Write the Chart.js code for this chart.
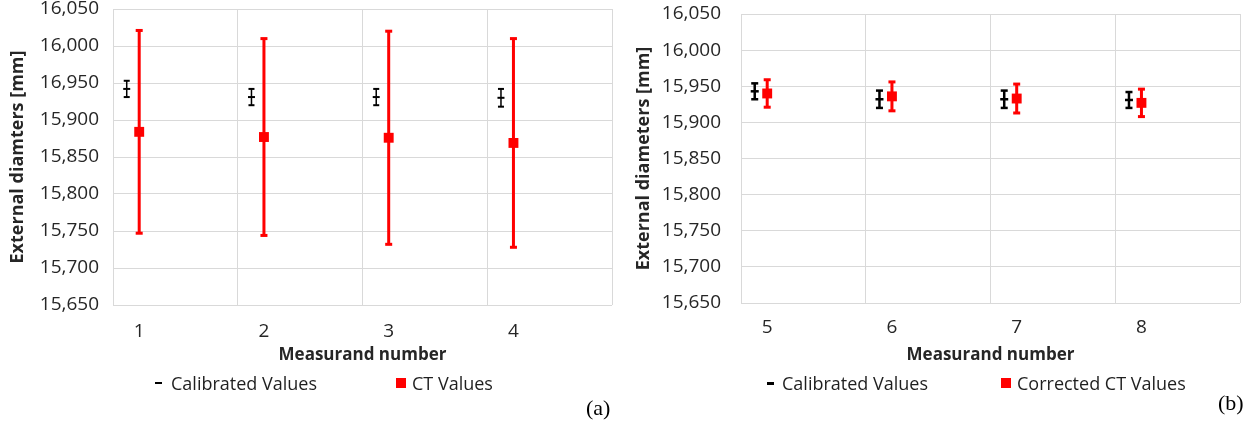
<!DOCTYPE html>
<html><head><meta charset="utf-8">
<script src="https://cdn.jsdelivr.net/npm/chart.js@4.4.1/dist/chart.umd.min.js"></script>
<style>
html,body{margin:0;padding:0;background:#fff;}
body{width:1260px;height:423px;position:relative;overflow:hidden;font-family:"Open Sans",sans-serif;}
.panel{position:absolute;top:0;width:630px;height:423px;}
.leg{position:absolute;font-size:18px;color:#1f1f1f;line-height:24px;white-space:nowrap;}
.mk{position:absolute;}
.tag{position:absolute;font-family:"Liberation Serif",serif;font-size:22px;line-height:26px;color:#000;}
</style></head><body>
<div class="panel" style="left:0"><canvas id="ca" width="630" height="423"></canvas></div>
<div class="panel" style="left:630px"><canvas id="cb" width="630" height="423"></canvas></div>
<div id="overlay"></div>
<script>
// ---------- data: panel (a) ----------
const catsA = [1, 2, 3, 4];
const calA = [15.942, 15.931, 15.931, 15.930];
const calErrA = [0.011, 0.011, 0.011, 0.012];
const ctA = [15.884, 15.877, 15.876, 15.869];
const ctErrA = [0.137, 0.133, 0.144, 0.141];
const namesA = ['Calibrated Values', 'CT Values'];
const yLabelsA = ['15,650', '15,700', '15,750', '15,800', '15,850', '15,900', '16,950', '16,000', '16,050'];
const yTitleA = 'External diamters [mm]';
// ---------- data: panel (b) ----------
const catsB = [5, 6, 7, 8];
const calB = [15.943, 15.932, 15.932, 15.931];
const calErrB = [0.011, 0.012, 0.012, 0.011];
const ctB = [15.940, 15.936, 15.933, 15.927];
const ctErrB = [0.019, 0.020, 0.020, 0.019];
const namesB = ['Calibrated Values', 'Corrected CT Values'];
const yLabelsB = ['15,650', '15,700', '15,750', '15,800', '15,850', '15,900', '15,950', '16,000', '16,050'];
const yTitleB = 'External diameters [mm]';
// ---------- shared ----------
const yTicks = [15.65, 15.70, 15.75, 15.80, 15.85, 15.90, 15.95, 16.00, 16.05];
const xTitle = 'Measurand number';

const GRID = '#d9d9d9';
const TXT = '#262626';

const errorBars = {
  id: 'errorBars',
  beforeDatasetsDraw(chart) {
    const ctx = chart.ctx, y = chart.scales.y;
    chart.data.datasets.forEach((ds, di) => {
      const meta = chart.getDatasetMeta(di);
      const st = ds.eb;
      ctx.save();
      ctx.fillStyle = st.color;
      meta.data.forEach((pt, i) => {
        const v = ds.data[i].y, e = ds.errors[i];
        const top = y.getPixelForValue(v + e), bot = y.getPixelForValue(v - e);
        const x = pt.x;
        ctx.fillRect(x - st.lw / 2, top, st.lw, bot - top);
        ctx.fillRect(x - st.cap / 2, top - st.capH / 2, st.cap, st.capH);
        ctx.fillRect(x - st.cap / 2, bot - st.capH / 2, st.cap, st.capH);
      });
      ctx.restore();
    });
  }
};

function makeChart(id, g) {
  const x0 = g.cats[0] - 0.21;
  const x1 = x0 + g.cats.length;
  return new Chart(document.getElementById(id), {
    type: 'scatter',
    data: {
      datasets: [
        {
          label: g.names[0],
          data: g.cats.map((c, i) => ({ x: c - 0.1, y: g.cal[i] })),
          errors: g.calErr,
          eb: g.blackEb,
          pointStyle: 'line', pointRadius: g.blackR, pointHoverRadius: g.blackR,
          borderColor: '#000', borderWidth: g.blackW, backgroundColor: '#000'
        },
        {
          label: g.names[1],
          data: g.cats.map((c, i) => ({ x: c, y: g.ct[i] })),
          errors: g.ctErr,
          eb: g.redEb,
          pointStyle: 'rect', pointRadius: 7, pointHoverRadius: 7,
          backgroundColor: '#ff0000', borderColor: '#ff0000', borderWidth: 0
        }
      ]
    },
    options: {
      responsive: false, animation: false, devicePixelRatio: 1,
      layout: { padding: { top: g.padTop, right: g.padRight, left: 0, bottom: 0 } },
      plugins: { legend: { display: false }, tooltip: { enabled: false } },
      scales: {
        x: {
          type: 'linear', position: 'bottom', min: x0, max: x1,
          afterBuildTicks: s => { s.ticks = g.cats.concat([0]).map((c, k) => ({ value: x0 + k })); },
          ticks: { display: false },
          grid: { color: GRID, lineWidth: 1, drawTicks: false },
          border: { display: false },
          afterFit: s => { s.height = 0; s.paddingLeft = 0; s.paddingRight = 0; }
        },
        xl: {
          type: 'linear', position: 'bottom', min: x0, max: x1,
          afterBuildTicks: s => { s.ticks = g.cats.map(c => ({ value: c })); },
          ticks: {
            font: { family: 'Open Sans', size: 19 }, color: TXT, padding: g.xTickPad,
            callback: (v, i) => String(g.cats[i])
          },
          grid: { display: false },
          border: { display: false },
          title: {
            display: true, text: xTitle, color: TXT,
            font: { family: 'Open Sans', size: 17, weight: 'bold' },
            padding: { top: 0, bottom: 58 }
          },
          afterFit: s => { s.height = g.xH; s.paddingLeft = 0; s.paddingRight = 0; }
        },
        y: {
          type: 'linear', min: 15.65, max: 16.05,
          afterBuildTicks: s => { s.ticks = yTicks.map(v => ({ value: v })); },
          ticks: {
            font: { family: 'Open Sans', size: 19 }, color: TXT, padding: g.yTickPad,
            callback: (v, i) => g.yLabels[i]
          },
          grid: { color: GRID, lineWidth: 1, drawTicks: false },
          border: { color: GRID },
          title: {
            display: true, text: g.yTitle, color: TXT,
            font: { family: 'Open Sans', size: 18, weight: 'bold' },
            padding: { top: g.yTitlePad, bottom: 0 }
          },
          afterFit: s => { s.width = g.yW; s.paddingTop = 0; s.paddingBottom = 0; }
        }
      }
    },
    plugins: [errorBars]
  });
}

makeChart('ca', {
  cats: catsA, cal: calA, calErr: calErrA, ct: ctA, ctErr: ctErrA,
  names: namesA, yLabels: yLabelsA, yTitle: yTitleA,
  padTop: 9, padRight: 18, yW: 113, yTickPad: 14, yTitlePad: 7, xH: 118, xTickPad: 7,
  blackR: 3.5, blackW: 2,
  blackEb: { color: '#000', lw: 1.5, cap: 6, capH: 2 },
  redEb: { color: '#ff0000', lw: 3, cap: 7, capH: 3 }
});
makeChart('cb', {
  cats: catsB, cal: calB, calErr: calErrB, ct: ctB, ctErr: ctErrB,
  names: namesB, yLabels: yLabelsB, yTitle: yTitleB,
  padTop: 14, padRight: 20, yW: 111, yTickPad: 20, yTitlePad: 3, xH: 120, xTickPad: 5,
  blackR: 4, blackW: 2.5,
  blackEb: { color: '#000', lw: 2.5, cap: 7, capH: 2.5 },
  redEb: { color: '#ff0000', lw: 3, cap: 7, capH: 3 }
});

// ---------- legends and panel tags (HTML text) ----------
const ov = document.getElementById('overlay');
function add(html) { ov.insertAdjacentHTML('beforeend', html); }
function legend(cy, dashX, dashW, dashH, t1x, sqX, t2x, names) {
  add(`<div class="mk" style="left:${dashX}px;top:${cy - dashH / 2}px;width:${dashW}px;height:${dashH}px;background:#000"></div>`);
  add(`<div class="leg" style="left:${t1x}px;top:${cy - 12}px">${names[0]}</div>`);
  add(`<div class="mk" style="left:${sqX}px;top:${cy - 5}px;width:10px;height:10px;background:#ff0000"></div>`);
  add(`<div class="leg" style="left:${t2x}px;top:${cy - 12}px">${names[1]}</div>`);
}
legend(383, 155, 7, 2, 171, 396, 412, namesA);
legend(383, 767, 7, 3, 782, 1001, 1017, namesB);
add(`<div class="tag" style="left:586px;top:395px">(a)</div>`);
add(`<div class="tag" style="left:1218px;top:390px">(b)</div>`);
</script>
</body></html>
